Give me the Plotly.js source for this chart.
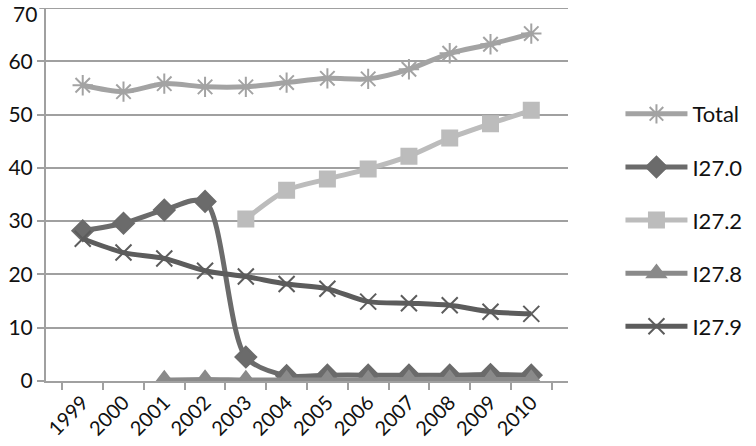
<!DOCTYPE html>
<html>
<head>
<meta charset="utf-8">
<script src="https://cdn.plot.ly/plotly-3.0.1.min.js"></script>
<style>
  html, body { margin: 0; padding: 0; background: #fff; }
  #chart { width: 756px; height: 446px; }
</style>
</head>
<body>
<div id="chart"></div>
<script>
// Values
let years = ['1999', '2000', '2001', '2002', '2003', '2004', '2005', '2006', '2007', '2008', '2009', '2010'];
let total = [55.5, 54.3, 55.8, 55.2, 55.2, 56.0, 56.8, 56.7, 58.5, 61.5, 63.2, 65.2];
let i270 = [28.2, 29.6, 32.1, 33.7, 4.5, 1.0, 1.1, 1.1, 1.1, 1.1, 1.2, 1.1];
let i272 = [null, null, null, null, 30.4, 35.8, 37.9, 39.8, 42.2, 45.6, 48.3, 50.8];
let i278 = [null, null, 0.2, 0.3, 0.2, 0.2, 0.2, 0.2, 0.3, 0.3, 0.3, 0.3];
let i279 = [26.7, 24.1, 23.0, 20.7, 19.6, 18.2, 17.3, 14.9, 14.6, 14.2, 13.0, 12.6];
let yTicks = [0, 10, 20, 30, 40, 50, 60];
let yTop = 70;   // plotly drops the tick label sitting on the top edge, so drawn by hand

let seriesNames = ['Total', 'I27.0', 'I27.2', 'I27.8', 'I27.9'];
let seriesValues = [total, i270, i272, i278, i279];
let colors = ['#a3a3a3', '#6b6b6b', '#bcbcbc', '#8a8a8a', '#5c5c5c'];
let symbols = ['asterisk-open', 'diamond', 'square', 'triangle-up', 'x-thin-open'];
let sizes = [17, 16, 15, 17, 16];

let data = [];
for (let i = 0; i < seriesNames.length; ++i) {
    data.push({
        x: years,
        y: seriesValues[i],
        name: seriesNames[i],
        legendgroup: 'g' + i,
        mode: 'lines+markers',
        connectgaps: false,
        line: { color: colors[i], width: 5, shape: 'spline', smoothing: 0.8 },
        marker: {
            symbol: symbols[i],
            size: sizes[i],
            color: colors[i],
            line: { color: colors[i], width: 2 },
        },
    });
}

let layout = {
    width: 756,
    height: 446,
    margin: { l: 46, r: 165, t: 8, b: 65, pad: 0 },
    paper_bgcolor: '#ffffff',
    plot_bgcolor: '#ffffff',
    font: { family: 'Lato, Open Sans, sans-serif', size: 20, color: '#111' },
    xaxis: {
        type: 'category',
        showgrid: false,
        showline: true,
        linecolor: '#a0a0a0',
        linewidth: 2,
        ticks: 'outside',
        tickson: 'boundaries',
        ticklen: 7,
        tickcolor: '#a0a0a0',
        tickwidth: 2,
        tickangle: -45,
        tickfont: { size: 20 },
    },
    yaxis: {
        range: [0, yTop],
        tickvals: yTicks,
        showgrid: true,
        gridcolor: '#a0a0a0',
        gridwidth: 2,
        zeroline: false,
        showline: true,
        linecolor: '#a0a0a0',
        linewidth: 2,
        ticks: 'outside',
        ticklen: 7,
        tickcolor: '#a0a0a0',
        tickwidth: 2,
        tickfont: { size: 21 },
    },
    shapes: [{
        type: 'line',
        xref: 'paper', yref: 'y',
        x0: -7 / 545, x1: 1,
        y0: yTop, y1: yTop,
        line: { color: '#a0a0a0', width: 2 },
    }],
    annotations: [{
        xref: 'paper', yref: 'y',
        x: 0, y: yTop,
        xanchor: 'right', yanchor: 'top',
        xshift: -8, yshift: 8,
        borderpad: 0,
        showarrow: false,
        text: String(yTop),
        font: { size: 21, color: '#111' },
    }],
    showlegend: true,
    legend: {
        x: 1.1005,
        y: 0.772,
        xanchor: 'left',
        yanchor: 'top',
        traceorder: 'grouped',
        tracegroupgap: 21.5,
        itemwidth: 62,
        font: { size: 22, color: '#111' },
        bgcolor: 'rgba(0,0,0,0)',
    },
};

let config = { staticPlot: true, displayModeBar: false };

Plotly.newPlot('chart', data, layout, config);
</script>
</body>
</html>
